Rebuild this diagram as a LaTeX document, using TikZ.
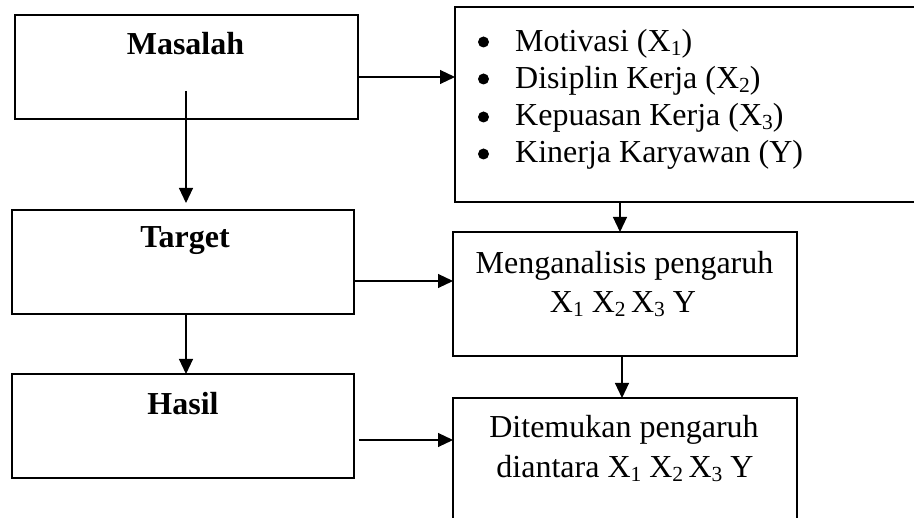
\documentclass[tikz,border=0pt]{standalone}
\usepackage{fontspec}
\setmainfont{Liberation Serif}
\usetikzlibrary{arrows.meta}
\tikzset{
  box/.style={draw, line width=1.1pt, rectangle, inner sep=0pt, outer sep=0pt},
  arr/.style={line width=1.1pt, -{Triangle[length=15pt,width=14pt]}},
  txt/.style={anchor=base, inner sep=0pt, font=\fontsize{32}{37}\selectfont},
  btxt/.style={txt, font=\fontsize{32}{37}\selectfont\bfseries},
  ltxt/.style={anchor=base west, inner sep=0pt, font=\fontsize{32}{37}\selectfont},
  dot/.style={circle, fill, inner sep=0pt, minimum size=11pt}
}
\newcommand{\Xs}[1]{X\raisebox{-0.12em}{\fontsize{21.5}{21.5}\selectfont #1}}
\begin{document}
\begin{tikzpicture}[x=1pt,y=-1pt]
\useasboundingbox (0,0) rectangle (914,518);
\clip (0,0) rectangle (914,518);
% boxes
\node[box, minimum width=343pt, minimum height=104pt] (masalah) at (186.5,67) {};
\node[box, minimum width=342pt, minimum height=104pt] (target) at (183,262) {};
\node[box, minimum width=342pt, minimum height=104pt] (hasil) at (183,426) {};
\node[box, minimum width=475pt, minimum height=195pt] (list) at (692.5,104.5) {};
\node[box, minimum width=344pt, minimum height=124pt] (mengan) at (625,294) {};
\node[box, minimum width=344pt, minimum height=142pt] (diten) at (625,469) {};
% texts
\node[btxt] (tmas) at (185.5,55) {Masalah};
\node[btxt] (ttar) at (185,248) {Target};
\node[btxt] (thas) at (183,415) {Hasil};
\node[dot] (b1) at (483.5,42) {};
\node[dot] (b2) at (483.5,79) {};
\node[dot] (b3) at (483.5,117) {};
\node[dot] (b4) at (483.5,154) {};
\node[ltxt] (l1) at (515,52) {Motivasi (\Xs{1})};
\node[ltxt] (l2) at (515,89) {Disiplin Kerja (\Xs{2})};
\node[ltxt] (l3) at (515,126) {Kepuasan Kerja (\Xs{3})};
\node[ltxt] (l4) at (515,163) {Kinerja Karyawan (Y)};
\node[txt] (m1) at (624.5,274) {Menganalisis pengaruh};
\node[txt] (m2) at (623,313) {\Xs{1} \Xs{2}\,\Xs{3} Y};
\node[txt] (d1) at (624,438) {Ditemukan pengaruh};
\node[txt] (d2) at (625,478) {diantara \Xs{1} \Xs{2}\,\Xs{3} Y};
% connectors
\coordinate (ms) at (186,91);
\coordinate (mt) at (186,203);
\draw[arr] (ms) -- (mt);
\draw[arr] (masalah.east |- 0,77) -- (list.west |- 0,77);
\draw[arr] (target.east |- 0,281) -- (mengan.west |- 0,281);
\draw[arr] (target.south -| 186,0) -- (hasil.north -| 186,0);
\draw[arr] (359,440) coordinate (hs) -- (diten.west |- hs);
\draw[arr] (list.south -| 620,0) -- (mengan.north -| 620,0);
\draw[arr] (mengan.south -| 622,0) -- (diten.north -| 622,0);
\end{tikzpicture}
\end{document}
